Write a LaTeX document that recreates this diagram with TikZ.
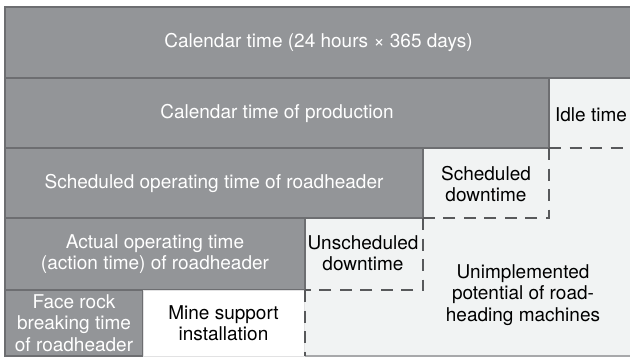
\documentclass[tikz,border=0pt]{standalone}
\usepackage{fontspec}
\setmainfont{TeX Gyre Heros}
\definecolor{boxgray}{HTML}{939598}
\definecolor{edgegray}{HTML}{6D6E71}
\definecolor{paper}{HTML}{F1F3F3}
\definecolor{dashgray}{HTML}{58595B}
\begin{document}
\begin{tikzpicture}[x=1pt,y=-1pt,
  graybox/.style={draw=edgegray, line width=1.6pt, fill=boxgray, text=white, align=center, inner sep=0pt},
  lightbox/.style={text=black, align=center, inner sep=0pt},
  cut/.style={dashgray, line width=2.4pt, dash pattern=on 12pt off 8.5pt},
  font=\fontsize{19}{21.5}\selectfont]
\useasboundingbox (0,0) rectangle (630,359);
\fill[white] (0,0) rectangle (630,359);
\fill[paper] (5,7) rectangle (632,356);
\draw[edgegray!60, line width=1.5pt] (5,356) -- (632,356);
% grey blocks, one per row
\node[graybox, minimum width=627pt, minimum height=71pt] (caltime) at (318.5,42.5) {Calendar time (24 hours × 365 days)};
\node[graybox, minimum width=544pt, minimum height=70pt] (prodtime) at (277,113) {Calendar time of production};
\node[graybox, minimum width=418pt, minimum height=70pt] (schedtime) at (214,183) {Scheduled operating time of roadheader};
\node[graybox, minimum width=300pt, minimum height=72pt] (acttime) at (155,254) {Actual operating time\\(action time) of roadheader};
\node[graybox, minimum width=138pt, minimum height=66pt] (facetime) at (74,323) {Face rock\\breaking time\\of roadheader};
% light blocks
\node[lightbox, fill=white, draw=edgegray!20, line width=1pt, minimum width=161pt, minimum height=66pt] (mine) at (223.5,323) {Mine support\\installation};
\node[lightbox] (idle) at (591,115) {Idle time};
\node[lightbox] (scheddown) at (486,184) {Scheduled\\downtime};
\node[lightbox] (unscheddown) at (363,253) {Unscheduled\\downtime};
\node[lightbox] (unimpl) at (523,295) {Unimplemented\\potential of road-\\heading machines};
% dashed borders
\coordinate (c1) at (549,148);
\coordinate (c2) at (549,218);
\coordinate (c3) at (423,218);
\coordinate (c4) at (423,290);
\coordinate (c5) at (305,290);
\coordinate (c6) at (305,356);
\coordinate (c7) at (632,148);
\draw[cut] (c1) -- (c7);
\draw[cut] (c1) -- (c2) -- (c3);
\draw[cut] (c3) -- (c4) -- (c5);
\draw[cut] (c5) -- (c6);
\end{tikzpicture}
\end{document}
